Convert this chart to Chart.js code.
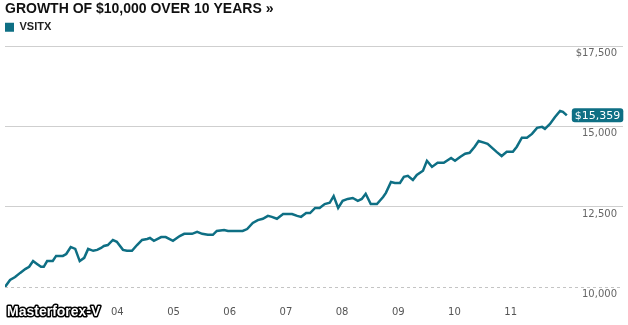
<!DOCTYPE html>
<html>
<head>
<meta charset="utf-8">
<title>Growth of $10,000 over 10 years</title>
<script src="https://cdn.jsdelivr.net/npm/chart.js@4.4.1/dist/chart.umd.min.js"></script>
<style>
  html, body { margin: 0; padding: 0; background: #fff; }
  #wrap { width: 628px; height: 325px; }
</style>
</head>
<body>
<div id="wrap"><canvas id="growthChart"></canvas></div>
<script>
// data (decimal year -> value of $10,000)
const fundName = "VSITX";
const years = [
  2002.00, 2002.09, 2002.18, 2002.27, 2002.36, 2002.43, 2002.50, 2002.57, 2002.64, 2002.69,
  2002.75, 2002.85, 2002.91, 2003.03, 2003.09, 2003.17, 2003.25, 2003.33, 2003.41, 2003.48,
  2003.57, 2003.64, 2003.71, 2003.76, 2003.83, 2003.92, 2003.99, 2004.10, 2004.17, 2004.26,
  2004.35, 2004.44, 2004.53, 2004.58, 2004.65, 2004.78, 2004.86, 2004.99, 2005.11, 2005.19,
  2005.33, 2005.42, 2005.51, 2005.61, 2005.70, 2005.77, 2005.90, 2005.97, 2006.06, 2006.23,
  2006.31, 2006.41, 2006.50, 2006.59, 2006.68, 2006.75, 2006.84, 2006.95, 2007.11, 2007.20,
  2007.27, 2007.36, 2007.43, 2007.52, 2007.60, 2007.69, 2007.78, 2007.85, 2007.93, 2008.01,
  2008.10, 2008.19, 2008.28, 2008.35, 2008.42, 2008.51, 2008.62, 2008.73, 2008.78, 2008.87,
  2008.94, 2009.03, 2009.10, 2009.17, 2009.26, 2009.33, 2009.44, 2009.51, 2009.60, 2009.70,
  2009.81, 2009.94, 2010.01, 2010.10, 2010.19, 2010.27, 2010.36, 2010.43, 2010.54, 2010.59,
  2010.75, 2010.84, 2010.93, 2011.04, 2011.11, 2011.20, 2011.29, 2011.38, 2011.47, 2011.56,
  2011.61, 2011.70, 2011.79, 2011.88, 2011.93, 2012.00
];
const values = [
  10000, 10220, 10310, 10440, 10560, 10630, 10810, 10720, 10630, 10630,
  10810, 10810, 10970, 10970, 11030, 11250, 11190, 10810, 10910, 11190,
  11130, 11160, 11220, 11280, 11310, 11470, 11410, 11160, 11130, 11130,
  11310, 11470, 11500, 11530, 11440, 11560, 11560, 11440, 11590, 11660,
  11660, 11720, 11660, 11630, 11630, 11750, 11780, 11750, 11750, 11750,
  11810, 12000, 12090, 12130, 12220, 12190, 12130, 12280, 12280, 12220,
  12190, 12310, 12310, 12470, 12470, 12590, 12630, 12840, 12470, 12690,
  12750, 12780, 12690, 12750, 12910, 12590, 12590, 12810, 12940, 13280,
  13250, 13250, 13440, 13470, 13340, 13500, 13630, 13940, 13750, 13880,
  13880, 14030, 13940, 14060, 14160, 14190, 14380, 14560, 14500, 14470,
  14220, 14090, 14220, 14220, 14380, 14660, 14660, 14780, 14970, 15000,
  14940, 15090, 15310, 15500, 15470, 15359
];
const xTickYears = [2004, 2005, 2006, 2007, 2008, 2009, 2010, 2011];
const xTickLabels = ["04", "05", "06", "07", "08", "09", "10", "11"];
const yTickValues = [10000, 12500, 15000, 17500];
const yTickLabels = ["10,000", "12,500", "15,000", "$17,500"];

const lineColor = "#0e6f84";

Chart.defaults.font.family = '"DejaVu Sans", Verdana, sans-serif';

// badge with the last value, next to the end of the line
const endLabel = {
  id: "endLabel",
  afterDatasetsDraw(chart) {
    const meta = chart.getDatasetMeta(0);
    const pt = meta.data[meta.data.length - 1];
    const ctx = chart.ctx;
    const text = "$" + values[values.length - 1].toLocaleString("en-US");
    ctx.save();
    ctx.font = '11px "DejaVu Sans"';
    const w = ctx.measureText(text).width + 6;
    const h = 14;
    const x = pt.x + 5;
    const y = pt.y - h / 2;
    ctx.fillStyle = lineColor;
    ctx.beginPath();
    ctx.roundRect(x, y, w, h, 3);
    ctx.fill();
    ctx.fillStyle = "#fff";
    ctx.textBaseline = "middle";
    ctx.fillText(text, x + 3, y + h / 2 + 0.5);
    ctx.restore();
  }
};

// watermark in the lower left corner
const watermark = {
  id: "watermark",
  afterDraw(chart) {
    const ctx = chart.ctx;
    ctx.save();
    ctx.font = 'bold 14px "Liberation Sans"';
    ctx.textBaseline = "middle";
    ctx.lineJoin = "round";
    ctx.lineWidth = 3;
    ctx.strokeStyle = "#000";
    ctx.strokeText("Masterforex-V", 7, 312);
    ctx.fillStyle = "#fff";
    ctx.fillText("Masterforex-V", 7, 312);
    ctx.restore();
  }
};

// a bit more room under the legend
const legendGap = {
  id: "legendGap",
  beforeInit(chart) {
    const fit = chart.legend.fit;
    chart.legend.fit = function () {
      fit.call(this);
      this.height += 4;
    };
  }
};

const config = {
  type: "line",
  data: {
    datasets: [
      {
        label: fundName,
        data: years.map((yr, i) => ({ x: yr, y: values[i] })),
        borderColor: lineColor,
        backgroundColor: lineColor,
        borderWidth: 2.5,
        pointRadius: 0,
        tension: 0,
      },
    ],
  },
  options: {
    responsive: true,
    maintainAspectRatio: false,
    animation: false,
    layout: { padding: { left: 5, right: 5, top: 0, bottom: 10 } },
    plugins: {
      tooltip: { enabled: false },
      title: {
        display: true,
        text: "GROWTH OF $10,000 OVER 10 YEARS \u00bb",
        align: "start",
        color: "#111",
        font: { family: '"Liberation Sans", Arial, sans-serif', size: 14, weight: "bold" },
        padding: { top: 1, bottom: 4 },
      },
      legend: {
        display: true,
        align: "start",
        labels: {
          boxWidth: 9,
          boxHeight: 9,
          padding: 0,
          color: "#222",
          font: { family: '"Liberation Sans", Arial, sans-serif', size: 11, weight: "bold" },
          generateLabels: (chart) =>
            Chart.defaults.plugins.legend.labels.generateLabels(chart).map((l) => ({ ...l, lineWidth: 0 })),
        },
      },
    },
    scales: {
      x: {
        type: "linear",
        min: 2002,
        max: 2013,
        grid: { display: false, drawTicks: false },
        border: { display: false },
        afterBuildTicks: (scale) => {
          scale.ticks = xTickYears.map((v) => ({ value: v }));
        },
        afterFit: (scale) => {
          scale.height = 28;
        },
        ticks: {
          color: "#555",
          font: { size: 10 },
          padding: 19,
          maxRotation: 0,
          callback: (v) => xTickLabels[xTickYears.indexOf(v)],
        },
      },
      y: {
        position: "right",
        min: 10000,
        max: 17500,
        afterBuildTicks: (scale) => {
          scale.ticks = yTickValues.map((v) => ({ value: v }));
        },
        afterFit: (scale) => {
          scale.width = 0;
        },
        grid: {
          drawTicks: false,
          color: (c) => (c.tick && c.tick.value === 10000 ? "#c4c4c4" : "#cfcfcf"),
        },
        border: {
          display: false,
          dash: (c) => (c.tick && c.tick.value === 10000 ? [3, 3] : []),
        },
        ticks: {
          mirror: true,
          padding: -6,
          labelOffset: 7,
          color: "#666",
          font: { size: 10 },
          callback: (v) => yTickLabels[yTickValues.indexOf(v)],
        },
      },
    },
  },
  plugins: [legendGap, endLabel, watermark],
};

const context = document.getElementById("growthChart").getContext("2d");
const chart = new Chart(context, config);
</script>
</body>
</html>
